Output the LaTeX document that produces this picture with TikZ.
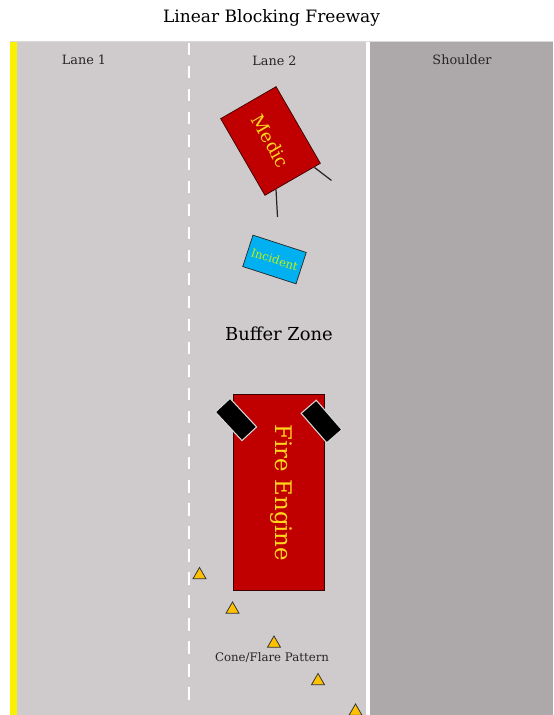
\documentclass[tikz,border=0pt]{standalone}
\usepackage{fontspec}
\setmainfont{DejaVu Serif}
\usetikzlibrary{shapes.geometric, positioning}
\definecolor{cRoad}{RGB}{207,203,204}
\definecolor{cShoulder}{RGB}{173,168,169}
\definecolor{cEdge}{RGB}{250,240,0}
\definecolor{cEngine}{RGB}{192,0,0}
\definecolor{cText}{RGB}{255,214,30}
\definecolor{cIncident}{RGB}{0,176,240}
\definecolor{cCone}{RGB}{255,192,0}
\tikzset{
	rig/.style      ={rectangle, draw=black!70!cEngine, fill=cEngine, text=cText, inner sep=0pt, align=center},
	doorblk/.style  ={rectangle, draw=white!85!black, fill=black, line width=0.6pt, minimum width=0.78cm, minimum height=0.4cm},
	conetri/.style  ={regular polygon, regular polygon sides=3, draw=black!80, fill=cCone, line width=0.45pt, minimum size=0.3cm, inner sep=0pt},
	lbl/.style      ={font=\fontsize{7.3}{8}\selectfont, text=black!85},
	mirror/.style   ={line width=0.7pt, black!85},
}
\begin{document}
\begin{tikzpicture}
	\useasboundingbox (0,0) rectangle (11.06,14.3);
	% road surface
	\fill[cRoad] (0.2,0) rectangle (7.34,13.46);
	\fill[cShoulder] (7.4,0) rectangle (11.06,13.46);
	\fill[white] (7.32,0) rectangle (7.4,13.46);
	\fill[cEdge] (0.2,0) rectangle (0.34,13.46);
	\draw[black!15, line width=0.4pt] (0.2,13.47) -- (11.06,13.47);
	\draw[white, line width=0.75pt, dash pattern=on 0.25cm off 0.21cm] (3.78,13.44) -- (3.78,0.2);
	% title and lanes
	\node[font=\fontsize{9.7}{11}\selectfont] (title) at (5.43,13.94) {Linear Blocking Freeway};
	\node[lbl] (lane1) at (1.68,13.1) {Lane 1};
	\node[lbl] (lane2) at (5.49,13.08) {Lane 2};
	\node[lbl] (shoulder) at (9.24,13.1) {Shoulder};
	% medic with mirrors
	\draw[mirror] (6.29,10.95) -- (6.63,10.69);
	\draw[mirror] (5.52,10.51) -- (5.55,9.96);
	\node[rig, minimum width=1.77cm, minimum height=1.28cm, rotate=-60, font=\fontsize{10.3}{11}\selectfont] (medic) at (5.41,11.48) {Medic};
	\node[rectangle, draw=black!85, fill=cIncident, text=cText!60!green!60!yellow, minimum width=1.12cm, minimum height=0.66cm, inner sep=0pt, rotate=-18, font=\fontsize{6.6}{7}\selectfont] (incident) at (5.49,9.11) {Incident};
	\node[font=\fontsize{10.2}{12}\selectfont] (buffer) at (5.58,7.62) {Buffer Zone};
	% engine
	\node[rig, minimum width=1.82cm, minimum height=3.92cm] (engine) at (5.57,4.46) {};
	\node[text=cText, rotate=-90, font=\fontsize{13}{14}\selectfont] (enginetxt) at (5.62,4.44) {Fire Engine};
	\node[doorblk, rotate=-47] (doorL) at (4.72,5.91) {};
	\node[doorblk, rotate=-49] (doorR) at (6.43,5.87) {};
	% cones
	\node[conetri] (cone1) at (3.99,2.8) {};
	\node[conetri] (cone2) at (4.65,2.11) {};
	\node[conetri] (cone3) at (5.48,1.43) {};
	\node[conetri] (cone4) at (6.36,0.68) {};
	\node[conetri] (cone5) at (7.11,0.07) {};
	\node[lbl, font=\fontsize{6.7}{7}\selectfont] (pattern) at (5.44,1.14) {Cone/Flare Pattern};
\end{tikzpicture}
\end{document}
